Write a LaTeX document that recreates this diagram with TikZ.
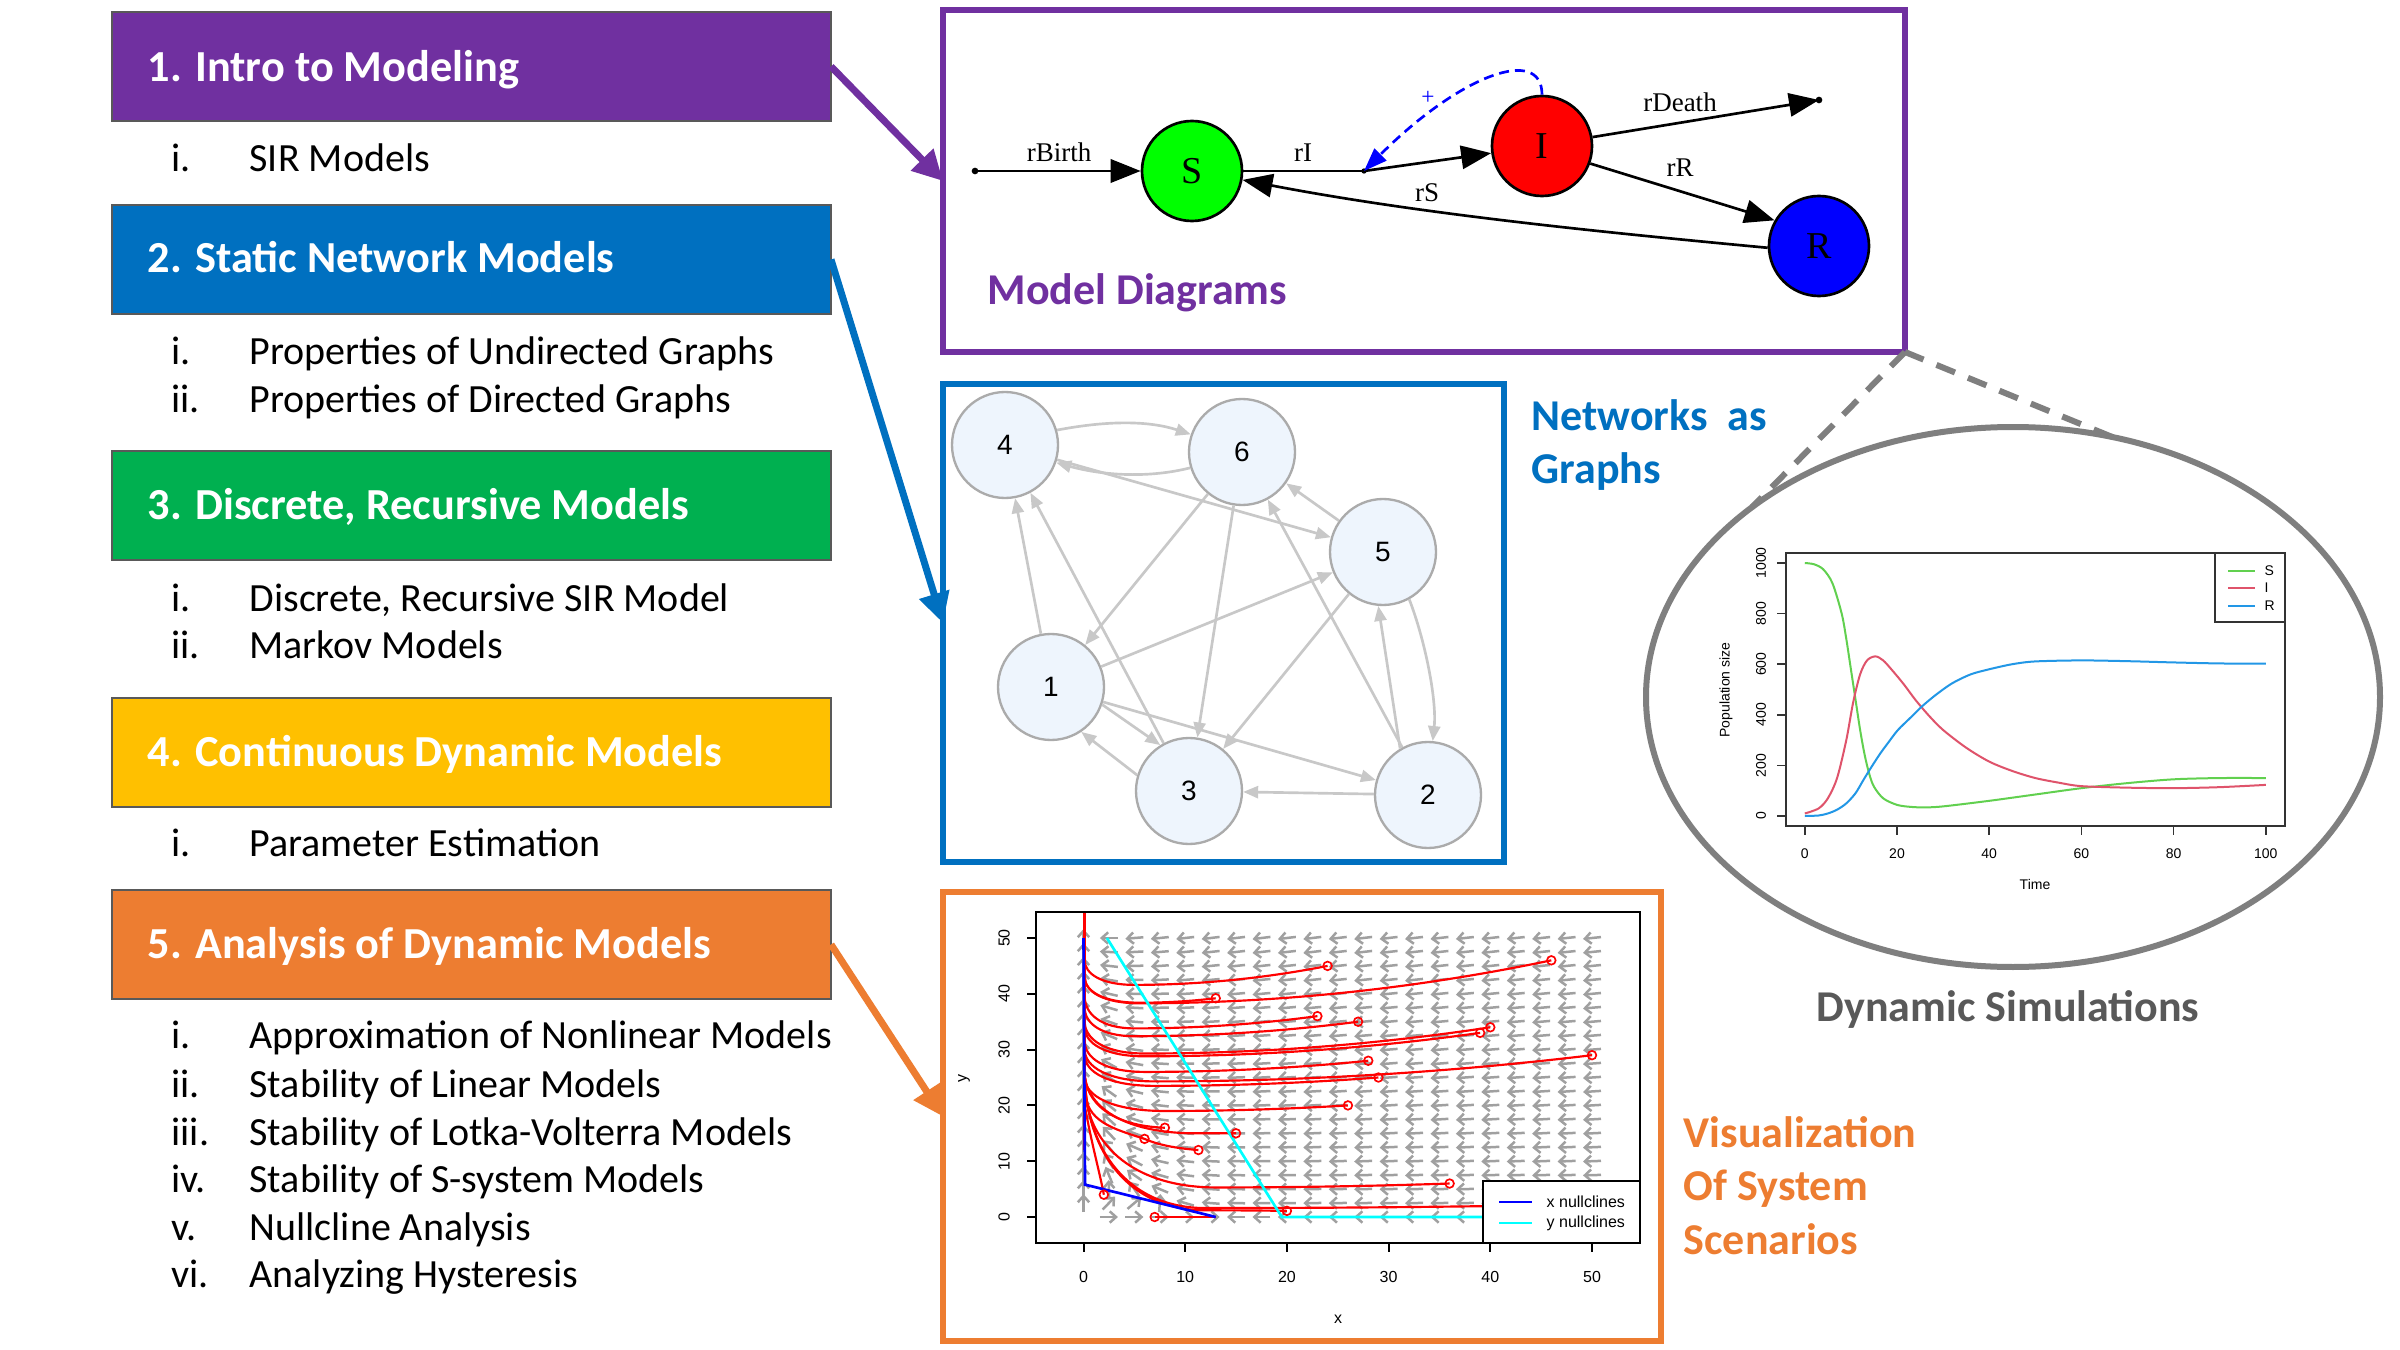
\documentclass[tikz,border=0pt]{standalone}
\usepackage{fontspec}
\setmainfont{Carlito}
\newfontfamily\plotfont{Liberation Sans}
\newfontfamily\serfont{Liberation Serif}
\usetikzlibrary{arrows.meta,shapes.geometric}
\definecolor{cpurple}{HTML}{7030A0}
\definecolor{cblue}{HTML}{0070C0}
\definecolor{cgreen}{HTML}{00B050}
\definecolor{cyellow}{HTML}{FFC000}
\definecolor{corange}{HTML}{ED7D31}
\definecolor{simgray}{HTML}{7F7F7F}
\definecolor{txtgray}{HTML}{595959}
\definecolor{nodefill}{HTML}{EEF5FD}
\definecolor{nodeline}{HTML}{ABABAB}
\definecolor{edgegray}{HTML}{C8C8C8}
\definecolor{fieldgray}{HTML}{A0A0A0}
\definecolor{sirgreen}{HTML}{00FF00}
\definecolor{pcyan}{HTML}{00FFFF}
\definecolor{cS}{HTML}{61D04F}
\definecolor{cI}{HTML}{DF536B}
\definecolor{cR}{HTML}{2297E6}
\newcommand\fsz[1]{\fontsize{#1}{#1}\selectfont}
\tikzset{
  secbox/.style={draw=black!65, line width=0.5pt, minimum width=215.7pt, minimum height=32.7pt,
    anchor=north west, inner sep=0pt, outer sep=0pt},
  sectitle/.style={anchor=base west, inner sep=0pt, text=white, font=\fsz{13.3pt}\bfseries},
  item/.style={anchor=base west, inner sep=0pt, font=\fsz{12pt}},
  frm/.style={anchor=north west, line width=1.8pt, inner sep=0pt, outer sep=0pt},
  bigarrow/.style={line width=2.1pt, -{Triangle[length=9pt,width=9pt]}},
  seclab/.style={font=\fsz{13.2pt}\bfseries, inner sep=0pt, anchor=base west},
  sirnode/.style={circle, draw=black, line width=0.8pt, minimum size=30pt, inner sep=0pt, font=\serfont\fsz{11.4pt}},
  sirline/.style={line width=0.8pt, -{Triangle[length=9pt,width=7pt]}},
  sirlab/.style={font=\serfont\fsz{8.1pt}, inner sep=0pt, anchor=base},
  netnode/.style={circle, draw=nodeline, fill=nodefill, line width=0.7pt, minimum size=31.8pt, inner sep=0pt, font=\plotfont\fsz{8.4pt}},
  netedge/.style={draw=edgegray, line width=0.8pt, -{Triangle[length=4.5pt,width=3.6pt]}},
  zoomline/.style={draw=simgray, line width=1.8pt, dash pattern=on 6pt off 4.2pt},
  plab/.style={font=\plotfont\fsz{4.8pt}, inner sep=0pt},
  slab/.style={font=\plotfont\fsz{4.2pt}, inner sep=0pt},
  field/.style={draw=fieldgray, line width=0.75pt, -{Straight Barb[length=1.9pt,width=3.4pt]}},
  traj/.style={draw=red, line width=0.65pt},
}
\newcommand\trajc[5]{%
  \draw[traj] (#1,#2) .. controls ({#1-(#1-#3)/3},{#2-2*(#2-#4)/3}) and ({#3+(#1-#3)/3},#4) .. (#3,#4)
    .. controls ({0.35*#3},#4) and (0.12,{#4+0.45*(#5-#4)}) .. (0.12,#5) -- (0.1,56);}
\begin{document}
\begin{tikzpicture}[x=0.3pt,y=-0.3pt]
\useasboundingbox[fill=white] (0,0) rectangle (2400,1350);

% ---------------- left column ----------------
\node[secbox, fill=cpurple] (b1) at (112,12) {};
\node[secbox, fill=cblue] (b2) at (112,205) {};
\node[secbox, fill=cgreen] (b3) at (112,451) {};
\node[secbox, fill=cyellow] (b4) at (112,698) {};
\node[secbox, fill=corange] (b5) at (112,890) {};
\node[sectitle] (b1t) at (147,82) {1. Intro to Modeling};
\node[sectitle] (b2t) at (147,273) {2. Static Network Models};
\node[sectitle] (b3t) at (147,519) {3. Discrete, Recursive Models};
\node[sectitle] (b4t) at (147,766) {4. Continuous Dynamic Models};
\node[sectitle] (b5t) at (147,958) {5. Analysis of Dynamic Models};

\node[item] (t1a) at (171,172) {\makebox[23.4pt][l]{i.}SIR Models};
\node[item] (t2a) at (171,364) {\makebox[23.4pt][l]{i.}Properties of Undirected Graphs};
\node[item] (t2b) at (171,412) {\makebox[23.4pt][l]{ii.}Properties of Directed Graphs};
\node[item] (t3a) at (171,611) {\makebox[23.4pt][l]{i.}Discrete, Recursive SIR Model};
\node[item] (t3b) at (171,658) {\makebox[23.4pt][l]{ii.}Markov Models};
\node[item] (t4a) at (171,856) {\makebox[23.4pt][l]{i.}Parameter Estimation};
\node[item] (t5a) at (171,1048) {\makebox[23.4pt][l]{i.}Approximation of Nonlinear Models};
\node[item] (t5b) at (171,1097) {\makebox[23.4pt][l]{ii.}Stability of Linear Models};
\node[item] (t5c) at (171,1145) {\makebox[23.4pt][l]{iii.}Stability of Lotka-Volterra Models};
\node[item] (t5d) at (171,1192) {\makebox[23.4pt][l]{iv.}Stability of S-system Models};
\node[item] (t5e) at (171,1240) {\makebox[23.4pt][l]{v.}Nullcline Analysis};
\node[item] (t5f) at (171,1287) {\makebox[23.4pt][l]{vi.}Analyzing Hysteresis};

% ---------------- frames ----------------
\node[frm, draw=cpurple, minimum width=288.6pt, minimum height=102.6pt] (pframe) at (943,10) {};
\node[frm, draw=cblue, minimum width=168.3pt, minimum height=143.4pt] (nframe) at (943,384) {};
\node[frm, draw=corange, minimum width=215.4pt, minimum height=134.7pt] (oframe) at (943,892) {};

\draw[bigarrow, cpurple] (b1.east) -- (pframe.west);
\draw[bigarrow, cblue] (b2.east) -- (nframe.west);
\draw[bigarrow, corange] (b5.east) -- (oframe.west);

% ---------------- SIR model diagram ----------------
\node[sirnode, fill=sirgreen] (S) at (1192,171) {S};
\node[sirnode, fill=red] (I) at (1542,146) {I};
\node[sirnode, fill=blue] (R) at (1819,246) {R};
\coordinate (birth) at (975,171);
\coordinate (jn) at (1364,171);
\coordinate (death) at (1819,100);
\fill (birth) circle[radius=1pt];
\fill (jn) circle[radius=0.8pt];
\fill (death) circle[radius=1pt];
\draw[sirline] (birth) -- (S);
\draw[line width=0.8pt] (S) -- (jn);
\draw[sirline] (jn) -- (I);
\draw[sirline] (I.10) -- (death);
\draw[sirline] (I.-20) -- (R.150);
\draw[sirline] (R.182) .. controls (1600,232) and (1420,214) .. (S.-10);
\draw[blue, line width=0.8pt, dash pattern=on 3pt off 1.8pt, -{Triangle[length=7pt,width=5pt]}]
  (I.north) .. controls (1542,45) and (1460,75) .. (jn);
\node[sirlab] (lbirth) at (1059,162) {rBirth};
\node[sirlab] (lrI) at (1303,162) {rI};
\node[sirlab] (lrS) at (1427,202) {rS};
\node[sirlab] (lrD) at (1680,112) {rDeath};
\node[sirlab] (lrR) at (1680,177) {rR};
\node[font=\serfont\fsz{7pt}, text=blue, inner sep=0pt] (plus) at (1428,98) {+};
\node[seclab, text=cpurple] (mdl) at (987,305) {Model Diagrams};

% ---------------- network ----------------
\node[netnode] (n4) at (1005,445) {4};
\node[netnode] (n6) at (1242,452) {6};
\node[netnode] (n5) at (1383,552) {5};
\node[netnode] (n1) at (1051,687) {1};
\node[netnode] (n3) at (1189,791) {3};
\node[netnode] (n2) at (1428,795) {2};
\draw[netedge] (n4.16) .. controls (1110,420) and (1150,421) .. (n6.161);
\draw[netedge] (n6.197) .. controls (1150,478) and (1105,476) .. (n4.-19);
\draw[netedge] (n4) -- (n5);
\draw[netedge] (n5) -- (n6);
\draw[netedge] (n6) -- (n1);
\draw[netedge] (n6) -- (n3);
\draw[netedge] (n1) -- (n4);
\draw[netedge] (n3) -- (n4);
\draw[netedge] (n1) -- (n5);
\draw[netedge] (n5) -- (n3);
\draw[netedge] (n2) -- (n6);
\draw[netedge] (n2.121) -- (n5.265);
\draw[netedge] (n5.-61) .. controls (1425,640) and (1437,700) .. (n2.85);
\draw[netedge] (n1.-19) -- (n3.122);
\draw[netedge] (n3.163) -- (n1.-56);
\draw[netedge] (n1) -- (n2);
\draw[netedge] (n2) -- (n3);
\node[seclab, text=cblue] (netl1) at (1531,430) {Networks~~as};
\node[seclab, text=cblue] (netl2) at (1531,483) {Graphs};

% ---------------- dynamic simulations ----------------
\node[ellipse, draw=simgray, line width=1.8pt, minimum width=220.2pt, minimum height=162pt, inner sep=0pt, outer sep=0pt] (ell) at (2013,697) {};
\draw[zoomline] (pframe.south east) -- (ell.144);
\draw[zoomline] (pframe.south east) -- (ell.69);
\draw[line width=0.45pt, black!80] (1786,553) rectangle (2285,826);
\foreach \t in {0,20,...,100}{
  \draw[line width=0.45pt, black!80] ({1804.8+4.61*\t},826) -- ++(0,9);
  \node[slab, anchor=base] (sx\t) at ({1804.8+4.61*\t},858) {\t};
}
\foreach \v in {0,200,...,1000}{
  \draw[line width=0.45pt, black!80] (1786,{816-0.253*\v}) -- ++(-9,0);
  \node[slab, rotate=90] (sy\v) at (1761,{816-0.253*\v}) {\v};
}
\node[slab, rotate=90] (popl) at (1726,690) {Population size};
\node[slab] (timel) at (2035,884) {Time};
\begin{scope}[shift={(1804.8,816)}, x=1.383pt, y=0.0759pt]
\draw[cS, line width=0.6pt] plot[smooth] coordinates {(0,1000) (2,995) (4,975) (6,920) (8,800) (9,700) (10,580) (11,460) (12,340) (13,240) (14,165) (15,116) (17,70) (20,44) (23,36) (26,34) (30,38) (40,60) (50,85) (60,110) (70,130) (80,145) (90,150) (100,150)};
\draw[cI, line width=0.6pt] plot[smooth] coordinates {(0,10) (3,30) (5,70) (7,150) (9,300) (10.5,450) (12,560) (13.5,615) (15.3,631) (17,615) (19,575) (21.5,520) (24,459) (27,395) (30,340) (35,270) (40,215) (45,178) (50,150) (55,132) (60,118) (70,112) (80,110) (90,114) (100,123)};
\draw[cR, line width=0.6pt] plot[smooth] coordinates {(0,0) (3,2) (5,10) (7,25) (9,50) (11,90) (12.7,142) (14.5,195) (16.4,248) (18.3,295) (20.2,340) (23,390) (25.4,433) (28.5,480) (32,525) (36,560) (40,580) (45,600) (50,611) (60,615) (70,612) (80,607) (90,603) (100,602)};
\end{scope}
\draw[line width=0.45pt, black!80, fill=white] (2215,553) rectangle (2285,622);
\draw[cS, line width=0.6pt] (2228,571) -- (2255,571);
\draw[cI, line width=0.6pt] (2228,588) -- (2255,588);
\draw[cR, line width=0.6pt] (2228,606) -- (2255,606);
\node[slab, anchor=west] (lgS) at (2264,571) {S};
\node[slab, anchor=west] (lgI) at (2264,588) {I};
\node[slab, anchor=west] (lgR) at (2264,606) {R};
\node[seclab, text=txtgray, anchor=base] (dynl) at (2008,1021) {Dynamic Simulations};

% ---------------- phase plane ----------------
\begin{scope}
\clip (1036,912) rectangle (1640,1243);
\begin{scope}[shift={(1083.5,1217)}, x=3.051pt, y=1.674pt]
\foreach \i in {0,...,20}{
  \foreach \j in {0,...,20}{
    \pgfmathsetmacro\X{2.5*\i}
    \pgfmathsetmacro\Y{2.5*\j}
    \pgfmathsetmacro\us{\X*(13-\X-2.1667*\Y)*0.1017}
    \pgfmathsetmacro\vs{\Y*(57.35-2.94*\X-\Y)*0.2*0.0558}
    \pgfmathsetmacro\mag{abs(\us)+abs(\vs)}
    \ifdim\mag pt>0.0001pt
      \pgfmathsetmacro\ang{atan2(\vs,\us)}
      \pgfmathsetmacro\angb{\ang+180}
      \draw[field] (\X,\Y) ++(\angb:2.7pt) -- ++(\ang:5.4pt);
    \fi
  }
}
\trajc{24}{45}{5}{41.6}{46}
\trajc{46}{46}{5.5}{38.3}{43}
\trajc{13}{39.2}{5.5}{38.4}{43}
\trajc{23}{36}{5}{33.8}{39.5}
\trajc{27}{35}{5}{32.4}{37.5}
\trajc{40}{34}{6}{29.3}{35}
\trajc{39}{33}{6}{28.8}{34}
\trajc{28}{28}{6}{26}{31.5}
\trajc{50}{29}{7}{24.3}{30}
\trajc{29}{25}{7}{23.5}{29}
\trajc{26}{20}{8}{19}{25}
\trajc{15}{15}{11}{15}{26}
\draw[traj] (8,16) .. controls (2.8,16.3) and (0.12,20.5) .. (0.12,26);
\draw[traj] (11.3,12) .. controls (8.5,12.4) and (7,13.2) .. (6,14) .. controls (3,15.8) and (0.15,17) .. (0.12,23) -- (0.1,56);
\trajc{36}{6}{13}{5.3}{24}
\trajc{20}{1.1}{12}{1.2}{26}
\trajc{48}{2.2}{12}{1.6}{26}
\draw[traj] (2,4) .. controls (1.6,8) and (0.8,13) .. (0.12,20) -- (0.1,56);
\draw[traj] (7,0) -- (13,0);
\draw[traj] (0.1,12) -- (0.1,56);
\draw[blue, line width=0.8pt] (0,50) -- (0.15,5.8) -- (13,0);
\draw[pcyan, line width=0.8pt] (2.3,50) -- (19.5,0) -- (50,0);
\foreach \p/\q in {24/45, 46/46, 13/39.2, 23/36, 27/35, 40/34, 39/33, 50/29, 28/28, 29/25, 26/20, 8/16, 15/15, 6/14, 11.3/12, 36/6, 20/1.1, 2/4, 7/0, 48/2.2}{
  \draw[red, line width=0.5pt] (\p,\q) circle[radius=1.3pt];
}
\end{scope}
\end{scope}
\draw[line width=0.8pt, fill=white] (1483,1181) rectangle (1640,1243);
\draw[blue, line width=0.8pt] (1499,1202) -- (1532,1202);
\draw[pcyan, line width=0.8pt] (1499,1223) -- (1532,1223);
\node[plab, anchor=west] (lgx) at (1546,1202) {x nullclines};
\node[plab, anchor=west] (lgy) at (1546,1223) {y nullclines};
\draw[line width=0.8pt] (1036,912) rectangle (1640,1243);
\foreach \k in {0,10,...,50}{
  \draw[line width=0.6pt] ({1083.5+10.17*\k},1243) -- ++(0,9);
  \node[plab, anchor=base] (px\k) at ({1083.5+10.17*\k},1282) {\k};
  \draw[line width=0.6pt] (1036,{1217-5.58*\k}) -- ++(-9,0);
  \node[plab, rotate=90] (py\k) at (1004,{1217-5.58*\k}) {\k};
}
\node[plab] (xlab) at (1338,1319) {x};
\node[plab, rotate=90] (ylab) at (964,1078) {y};
\node[seclab, text=corange] (vis1) at (1683,1147) {Visualization};
\node[seclab, text=corange] (vis2) at (1683,1200) {Of System};
\node[seclab, text=corange] (vis3) at (1683,1254) {Scenarios};
\end{tikzpicture}
\end{document}
